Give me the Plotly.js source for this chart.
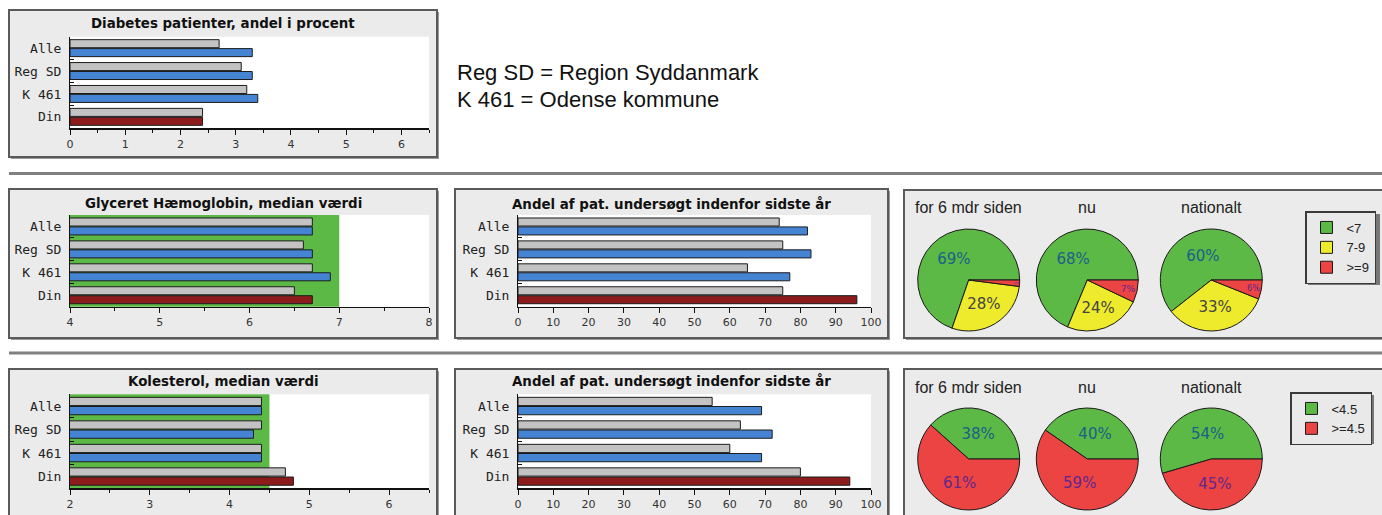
<!DOCTYPE html>
<html>
<head>
<meta charset="utf-8">
<script src="https://cdn.plot.ly/plotly-3.0.1.min.js"></script>
<style>
html,body{margin:0;padding:0;background:#fff;}
#chart{width:1382px;height:515px;}
</style>
</head>
<body>
<div id="chart"></div>
<script>
// ---------------- data ----------------
const categories = ['Alle', 'Reg SD', 'K 461', 'Din'];

const diabetesGrey  = [2.7, 3.1, 3.2, 2.4];
const diabetesColor = [3.3, 3.3, 3.4, 2.4];

const hba1cGrey  = [6.7, 6.6, 6.7, 6.5];
const hba1cColor = [6.7, 6.7, 6.9, 6.7];
const hba1cTarget = 7;

const hba1cTestedGrey  = [74, 75, 65, 75];
const hba1cTestedColor = [82, 83, 77, 96];

const cholGrey  = [4.4, 4.4, 4.4, 4.7];
const cholColor = [4.4, 4.3, 4.4, 4.8];
const cholTarget = 4.5;

const cholTestedGrey  = [55, 63, 60, 80];
const cholTestedColor = [69, 72, 69, 94];

const pieTitles = ['for 6 mdr siden', 'nu', 'nationalt'];

const hba1cLabels = ['&lt;7', '7-9', '&gt;=9'];
const hba1cPie6m  = [69, 28, 2];
const hba1cPieNow = [68, 24, 7];
const hba1cPieNat = [60, 33, 6];

const cholLabels = ['&lt;4.5', '&gt;=4.5'];
const cholPie6m  = [38, 61];
const cholPieNow = [40, 59];
const cholPieNat = [54, 45];

const panelTitles = ['Diabetes patienter, andel i procent', 'Glyceret Hæmoglobin, median værdi',
  'Andel af pat. undersøgt indenfor sidste år', 'Kolesterol, median værdi', 'Andel af pat. undersøgt indenfor sidste år'];
const noteLines = ['Reg SD = Region Syddanmark', 'K 461 = Odense kommune'];

// ---------------- styling / layout helpers ----------------
const W = 1382, H = 515;
const X = p => p / W;
const Y = p => 1 - p / H;

const GREY = '#c3c3c3', BLUE = '#4584d3', DARKRED = '#8c1c1c';
const GREEN = '#5cb946', YELLOW = '#eeea2c', RED = '#ec4343';
const OUT = '#1c1c1c';
const colorFor = cats => cats.map(c => c === 'Din' ? DARKRED : BLUE);

// plot areas in pixels [x0,x1,y0,y1]
const areas = [
  [70, 429, 36.7, 128.3],
  [70, 429, 215, 306.7],
  [518, 871, 215, 306.7],
  [70, 429, 394.3, 488.3],
  [518, 871, 394.3, 488.3]
];

const barSets = [
  {grey: diabetesGrey, col: diabetesColor, range: [0, 6.5], dtick: 1, minor: 0.5},
  {grey: hba1cGrey, col: hba1cColor, range: [4, 8], dtick: 1, minor: 0.5},
  {grey: hba1cTestedGrey, col: hba1cTestedColor, range: [0, 100], dtick: 10, minor: null},
  {grey: cholGrey, col: cholColor, range: [2, 6.5], dtick: 1, minor: 0.5},
  {grey: cholTestedGrey, col: cholTestedColor, range: [0, 100], dtick: 10, minor: null}
];

const data = [];
const layout = {
  width: W, height: H,
  margin: {l: 0, r: 0, t: 0, b: 0},
  paper_bgcolor: '#ffffff',
  plot_bgcolor: 'rgba(0,0,0,0)',
  barmode: 'group',
  bargap: 0.22,
  bargroupgap: 0.1,
  showlegend: true,
  shapes: [],
  annotations: []
};

// panel frames
const panels = [
  [9, 10, 437, 157],
  [9, 189, 437, 338],
  [455, 189, 888, 338],
  [904, 190, 1395, 338],
  [9, 369, 437, 530],
  [455, 369, 888, 530],
  [904, 369, 1395, 530]
];
function pRect(x0, y0, x1, y1, fill, line, lw) {
  return {type: 'rect', xref: 'paper', yref: 'paper', layer: 'below',
    x0: X(x0), x1: X(x1), y0: Y(y1), y1: Y(y0),
    fillcolor: fill, line: {color: line || fill, width: lw || 0}};
}
panels.forEach(p => {
  layout.shapes.push(pRect(p[0] + 2, p[1] + 2, p[2] + 2, p[3] + 2, '#9a9a9a'));
  layout.shapes.push(pRect(p[0], p[1], p[2], p[3], '#ebebeb', '#5a5a5a', 2));
});
// separators
[173.5, 353].forEach(y => {
  layout.shapes.push({type: 'line', xref: 'paper', yref: 'paper', layer: 'below',
    x0: X(9), x1: 1, y0: Y(y), y1: Y(y), line: {color: '#808080', width: 3}});
});

barSets.forEach((s, i) => {
  const n = i === 0 ? '' : String(i + 1);
  const a = areas[i];
  const xd = [X(a[0]), X(a[1])], yd = [Y(a[3]), Y(a[2])];
  // white plotting area
  layout.shapes.push({type: 'rect', xref: 'paper', yref: 'paper', layer: 'below',
    x0: xd[0], x1: xd[1], y0: yd[0], y1: yd[1], fillcolor: '#ffffff', line: {width: 0}});
  // target band
  if (i === 1 || i === 3) {
    layout.shapes.push({type: 'rect', xref: 'x' + n, yref: 'paper', layer: 'below',
      x0: s.range[0], x1: i === 1 ? hba1cTarget : cholTarget, y0: yd[0], y1: yd[1],
      fillcolor: GREEN, line: {width: 0}});
  }
  const xa = {
    domain: xd, anchor: 'y' + n, range: s.range, dtick: s.dtick, tick0: 0,
    showline: true, linecolor: '#111', linewidth: 1.5,
    ticks: 'outside', ticklen: 5, tickcolor: '#111', tickwidth: 1,
    showgrid: false, zeroline: false, fixedrange: true,
    tickfont: {family: 'DejaVu Sans', size: 11, color: '#333'}
  };
  if (s.minor) xa.minor = {dtick: s.minor, ticks: 'outside', ticklen: 3, tickcolor: '#111', showgrid: false};
  const ya = {
    domain: yd, anchor: 'x' + n, type: 'category', range: [3.5, -0.5],
    showline: true, linecolor: '#111', linewidth: 1,
    ticks: 'inside', tickson: 'boundaries', ticklen: 4, tickcolor: '#111',
    showgrid: false, zeroline: false, fixedrange: true, ticklabelstandoff: 5,
    tickfont: {family: 'DejaVu Sans Mono', size: 13, color: '#222'}
  };
  layout['xaxis' + n] = xa;
  layout['yaxis' + n] = ya;
  data.push({type: 'bar', orientation: 'h', x: s.grey, y: categories,
    xaxis: 'x' + n, yaxis: 'y' + n, showlegend: false, hoverinfo: 'x',
    marker: {color: GREY, line: {color: OUT, width: 1}}});
  data.push({type: 'bar', orientation: 'h', x: s.col, y: categories,
    xaxis: 'x' + n, yaxis: 'y' + n, showlegend: false, hoverinfo: 'x',
    marker: {color: colorFor(categories), line: {color: OUT, width: 1}}});
});

// panel titles
const titlePos = [[223, 23], [223, 203.5], [671.5, 203.5], [223, 381], [671.5, 381]];
panelTitles.forEach((t, i) => {
  layout.annotations.push({text: '<b>' + t + '</b>', xref: 'paper', yref: 'paper',
    x: X(titlePos[i][0]), y: Y(titlePos[i][1]), xanchor: 'center', yanchor: 'middle', showarrow: false,
    font: {family: 'DejaVu Sans', size: 13.4, color: '#111'}});
});
// notes
noteLines.forEach((t, i) => {
  layout.annotations.push({text: t, xref: 'paper', yref: 'paper', x: X(455), y: Y(73 + i * 26.5),
    xanchor: 'left', yanchor: 'middle', showarrow: false,
    font: {family: 'Liberation Sans', size: 22, color: '#111'}});
});

// pies: first slice runs counter-clockwise from 3 o'clock, the rest follow
const pieCx = [968.7, 1087.3, 1211.3];
const pieR = 51;
const TXT_G = '#1d5f86', TXT_Y = '#444444', TXT_R = '#62288c';
function startAt3(vals) {
  const tot = vals.reduce((a, b) => a + b, 0);
  let r = 90 - 360 * vals[0] / tot;
  if (r < -180) r += 360;
  return r;
}
function addPies(sets, labels, colors, txtColors, cy, titleY, legendId) {
  sets.forEach((vals, k) => {
    data.push({
      type: 'pie', values: vals, labels: labels,
      text: vals.map(v => v + '%'), textinfo: 'text', textposition: 'inside',
      insidetextorientation: 'horizontal', sort: false,
      direction: 'counterclockwise', rotation: startAt3(vals),
      marker: {colors: colors, line: {color: '#1a1a1a', width: 1}},
      textfont: {family: 'DejaVu Sans', size: 15, color: txtColors},
      domain: {x: [X(pieCx[k] - pieR), X(pieCx[k] + pieR)], y: [Y(cy + pieR), Y(cy - pieR)]},
      hoverinfo: 'label+text', legend: legendId, showlegend: true
    });
    layout.annotations.push({text: pieTitles[k], xref: 'paper', yref: 'paper',
      x: X(pieCx[k]), y: Y(titleY), xanchor: 'center', yanchor: 'middle', showarrow: false,
      font: {family: 'Liberation Sans', size: 16, color: '#222'}});
  });
}
addPies([hba1cPie6m, hba1cPieNow, hba1cPieNat], hba1cLabels, [GREEN, YELLOW, RED],
  [TXT_G, TXT_Y, TXT_R], 280, 207, 'legend');
addPies([cholPie6m, cholPieNow, cholPieNat], cholLabels, [GREEN, RED],
  [TXT_G, TXT_R], 459, 387, 'legend2');

const legendStyle = {
  xanchor: 'left', yanchor: 'top', bgcolor: '#e9e9e9', bordercolor: '#3a3a3a', borderwidth: 1.5,
  font: {family: 'Liberation Sans', size: 13, color: '#222'}, itemwidth: 30, traceorder: 'normal',
  itemclick: false, itemdoubleclick: false
};
layout.legend = Object.assign({x: X(1305), y: Y(211)}, legendStyle);
layout.legend2 = Object.assign({x: X(1290), y: Y(392)}, legendStyle);
// legend drop shadows
layout.shapes.push(pRect(1308, 214, 1380, 285, '#777777'));
layout.shapes.push(pRect(1293, 395, 1374, 444, '#777777'));

Plotly.newPlot('chart', data, layout, {displayModeBar: false, staticPlot: true});
</script>
</body>
</html>
